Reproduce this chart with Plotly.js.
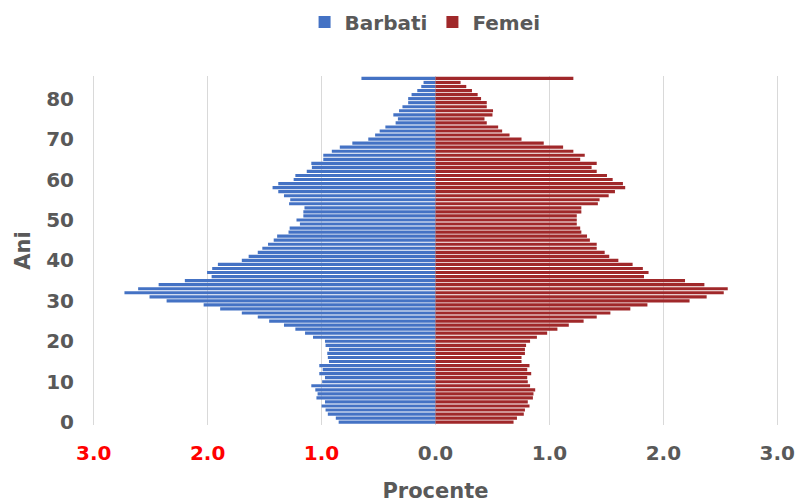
<!DOCTYPE html>
<html>
<head>
<meta charset="utf-8">
<script src="https://cdn.plot.ly/plotly-3.0.1.min.js"></script>
<style>
  html, body { margin: 0; padding: 0; background: #fff; }
  #pyramid { width: 797px; height: 503px; }
</style>
</head>
<body>
<div id="pyramid"></div>
<script>
// Ages 0..85 (85 = 85+)
var ages = [];
for (var a = 0; a <= 85; a++) ages.push(a);

// Percent of population (age 0 first)
var barbati = [
  0.85, 0.875, 0.945, 0.965, 1.0, 0.97, 1.045, 1.035, 1.055, 1.09,
  0.995, 0.97, 1.02, 0.99, 1.02, 0.935, 0.945, 0.95, 0.935, 0.965,
  0.97, 1.075, 1.145, 1.23, 1.33, 1.46, 1.56, 1.70, 1.89, 2.035,
  2.36, 2.51, 2.73, 2.61, 2.43, 2.20, 1.965, 2.005, 1.96, 1.91,
  1.70, 1.64, 1.56, 1.52, 1.47, 1.42, 1.39, 1.29, 1.28, 1.19,
  1.22, 1.16, 1.16, 1.15, 1.285, 1.275, 1.33, 1.38, 1.43, 1.38,
  1.245, 1.23, 1.13, 1.085, 1.09, 0.985, 0.985, 0.91, 0.84, 0.73,
  0.59, 0.53, 0.49, 0.44, 0.35, 0.33, 0.37, 0.32, 0.29, 0.24,
  0.24, 0.21, 0.16, 0.125, 0.105, 0.65
];
var femei = [
  0.685, 0.715, 0.775, 0.785, 0.825, 0.81, 0.855, 0.86, 0.875, 0.83,
  0.81, 0.805, 0.84, 0.805, 0.825, 0.755, 0.755, 0.785, 0.785, 0.795,
  0.83, 0.89, 0.98, 1.07, 1.17, 1.30, 1.415, 1.535, 1.71, 1.86,
  2.23, 2.38, 2.53, 2.565, 2.36, 2.19, 1.83, 1.87, 1.82, 1.73,
  1.605, 1.525, 1.485, 1.415, 1.415, 1.355, 1.33, 1.28, 1.27, 1.24,
  1.24, 1.24, 1.28, 1.28, 1.425, 1.44, 1.52, 1.575, 1.665, 1.645,
  1.555, 1.505, 1.415, 1.37, 1.415, 1.27, 1.31, 1.21, 1.12, 0.95,
  0.755, 0.65, 0.585, 0.55, 0.45, 0.43, 0.50, 0.505, 0.45, 0.45,
  0.40, 0.37, 0.32, 0.27, 0.22, 1.21
];

// X tick labels: absolute values, the male side in red
var xTickVals = [-3, -2, -1, 0, 1, 2, 3];
var xTickText = ["3.0", "2.0", "1.0", "0.0", "1.0", "2.0", "3.0"];
var labelsShown = xTickText.map(function(t, i) {
  return xTickVals[i] < 0 ? '<span style="color:#FF0000">' + t + '</span>' : t;
});

var grey = "#595959";
var fontFam = "DejaVu Sans, Arial, sans-serif";

var traceM = {
  name: "Barbati",
  y: ages,
  x: barbati.map(function(v) { return -v; }),
  type: "bar",
  orientation: "h",
  marker: { color: "#4472C4" },
  hoverinfo: "skip"
};
var traceF = {
  name: "Femei",
  y: ages,
  x: femei,
  type: "bar",
  orientation: "h",
  marker: { color: "#A0282A" },
  hoverinfo: "skip"
};

var layout = {
  width: 797,
  height: 503,
  margin: { l: 88, r: 14, t: 76, b: 78, autoexpand: false },
  paper_bgcolor: "#fff",
  plot_bgcolor: "#fff",
  barmode: "overlay",
  bargap: 0.22,
  font: { family: fontFam, color: grey, size: 20, weight: "bold" },
  showlegend: true,
  legend: {
    orientation: "h",
    x: 0.485, xanchor: "center",
    y: 1.155, yanchor: "middle",
    font: { size: 20, color: grey, weight: "bold" },
    traceorder: "normal",
    itemwidth: 30
  },
  xaxis: {
    range: [-3.05, 3.05],
    tickvals: xTickVals,
    ticktext: labelsShown,
    tickfont: { size: 20, color: grey, weight: "bold" },
    ticks: "outside",
    ticklen: 10,
    tickcolor: "rgba(0,0,0,0)",
    showgrid: true,
    gridcolor: "#D9D9D9",
    gridwidth: 1.5,
    zeroline: true,
    zerolinecolor: "#D9D9D9",
    zerolinewidth: 1.5,
    showline: false,
    fixedrange: true,
    title: { text: "Procente", font: { size: 21, color: grey, weight: "bold" }, standoff: 30 }
  },
  yaxis: {
    range: [-0.7, 85.6],
    tickvals: [0, 10, 20, 30, 40, 50, 60, 70, 80],
    tickfont: { size: 20, color: grey, weight: "bold" },
    ticks: "outside",
    ticklen: 9,
    tickcolor: "rgba(0,0,0,0)",
    showgrid: false,
    zeroline: false,
    showline: false,
    fixedrange: true,
    title: { text: "Ani", font: { size: 21, color: grey, weight: "bold" }, standoff: 9 }
  }
};

Plotly.newPlot("pyramid", [traceM, traceF], layout, { displayModeBar: false, staticPlot: true });
</script>
</body>
</html>
